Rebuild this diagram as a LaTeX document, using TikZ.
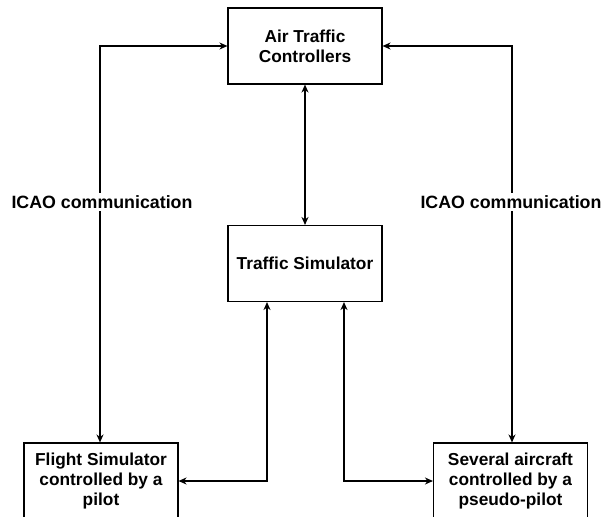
\documentclass[tikz,border=0pt]{standalone}
\usepackage{fontspec}
\setmainfont{Liberation Sans}
\usetikzlibrary{arrows.meta}
\begin{document}
\begin{tikzpicture}[x=1pt,y=-1pt,
  box/.style={draw, line width=1.1pt, minimum width=154pt, minimum height=76pt,
    align=center, inner sep=0pt, font=\fontsize{17.3}{20}\selectfont\bfseries},
  link/.style={line width=1.1pt, {Stealth[length=8pt,width=7pt,inset=2.5pt]}-{Stealth[length=8pt,width=7pt,inset=2.5pt]}},
  lbl/.style={fill=white, inner sep=2pt, font=\fontsize{17.8}{20}\selectfont\bfseries}]
  \useasboundingbox (0,0) rectangle (603,517);
  \fill[white] (0,0) rectangle (603,517);

  % boxes
  \node[box] (atc) at (305,46) {Air Traffic\\Controllers};
  \node[box] (sim) at (305,263.5) {Traffic Simulator};
  \node[box] (fs)  at (101,481) {Flight Simulator\\controlled by a\\pilot};
  \node[box] (pp)  at (510.5,481) {Several aircraft\\controlled by a\\pseudo-pilot};

  % ATC <-> traffic simulator
  \draw[link] (atc) -- (sim);

  % ICAO voice links
  \coordinate (lc) at (100,46);
  \coordinate (rc) at (512,46);
  \draw[link] (atc.west) -- (lc) -- (fs.north -| lc);
  \draw[link] (atc.east) -- (rc) -- (pp.north -| rc);
  \node[lbl] at (102,202) {ICAO communication};
  \node[lbl] at (511,202) {ICAO communication};

  % traffic simulator <-> pilots
  \coordinate (sl) at (267,481);
  \coordinate (sr) at (344,481);
  \draw[link] (sim.south -| sl) -- (sl) -- (fs.east);
  \draw[link] (sim.south -| sr) -- (sr) -- (pp.west);
\end{tikzpicture}
\end{document}
